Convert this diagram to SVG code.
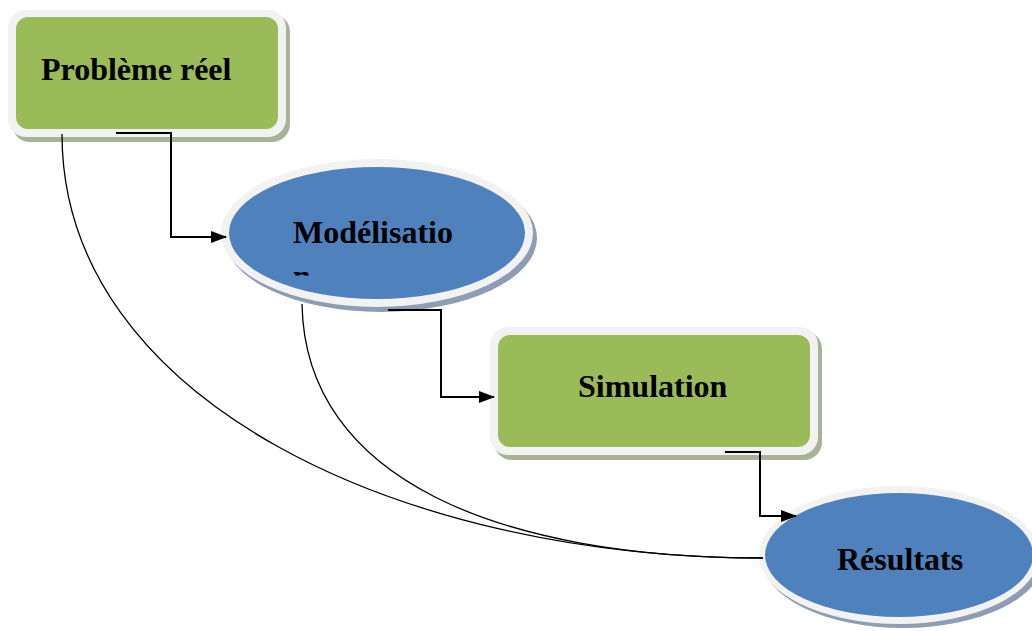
<svg xmlns="http://www.w3.org/2000/svg" width="1032" height="631" viewBox="0 0 1032 631">
  <defs>
    <style>
      .label { font-family: "Liberation Serif", "Times New Roman", serif; font-weight: bold; font-size: 32px; fill: #000; }
      .frame { fill: #f2f2f2; }
      .green { fill: #9bbb59; }
      .blue { fill: #4f81bd; }
      .gshadow { fill: #a7b394; }
      .bshadow { fill: #8e9db3; }
      .conn { fill: none; stroke: #000; stroke-width: 2; }
      .curve { fill: none; stroke: #000; stroke-width: 1.3; }
    </style>
    <marker id="arrow" viewBox="0 0 16 12" refX="15" refY="6" markerWidth="16" markerHeight="12" markerUnits="userSpaceOnUse" orient="auto">
      <path d="M0,0 L16,6 L0,12 z" fill="#000"/>
    </marker>
    <clipPath id="clipN">
      <rect x="285" y="270" width="30" height="5.5"/>
    </clipPath>
  </defs>

  <!-- Problème réel -->
  <g id="node-probleme">
    <rect class="gshadow" x="12" y="14" width="278" height="128" rx="18"/>
    <rect class="frame" x="8" y="10" width="278" height="127" rx="18"/>
    <rect class="green" x="16" y="17" width="262" height="112" rx="12"/>
    <text class="label" x="41" y="80">Problème réel</text>
  </g>

  <!-- Modélisation -->
  <g id="node-modelisation">
    <ellipse class="bshadow" cx="381" cy="238" rx="156" ry="74"/>
    <ellipse class="frame" cx="377" cy="233" rx="156" ry="74"/>
    <ellipse class="blue" cx="377" cy="233" rx="148" ry="66"/>
    <text class="label" x="293" y="243">Modélisatio</text>
    <text class="label" x="293" y="287" clip-path="url(#clipN)">n</text>
  </g>

  <!-- Simulation -->
  <g id="node-simulation">
    <rect class="gshadow" x="494" y="331" width="328" height="129" rx="18"/>
    <rect class="frame" x="490" y="327" width="328" height="128" rx="18"/>
    <rect class="green" x="498" y="335" width="312" height="112" rx="12"/>
    <text class="label" x="578" y="397">Simulation</text>
  </g>

  <!-- Résultats -->
  <g id="node-resultats">
    <ellipse class="bshadow" cx="903" cy="560" rx="140" ry="68"/>
    <ellipse class="frame" cx="899" cy="555" rx="140" ry="69"/>
    <ellipse class="blue" cx="899" cy="555" rx="134" ry="62"/>
    <text class="label" x="837" y="570">Résultats</text>
  </g>

  <!-- connectors -->
  <g id="connectors">
    <path class="curve" d="M62,134 C62,400 400,558 763,558"/>
    <path class="curve" d="M302,304 C305,480 500,558 763,558"/>
    <path class="conn" d="M116,133 H171 V237 H226" marker-end="url(#arrow)"/>
    <path class="conn" d="M388,310 H441 V397 H494" marker-end="url(#arrow)"/>
    <path class="conn" d="M725,452 H760 V516 H796" marker-end="url(#arrow)"/>
  </g>
</svg>
